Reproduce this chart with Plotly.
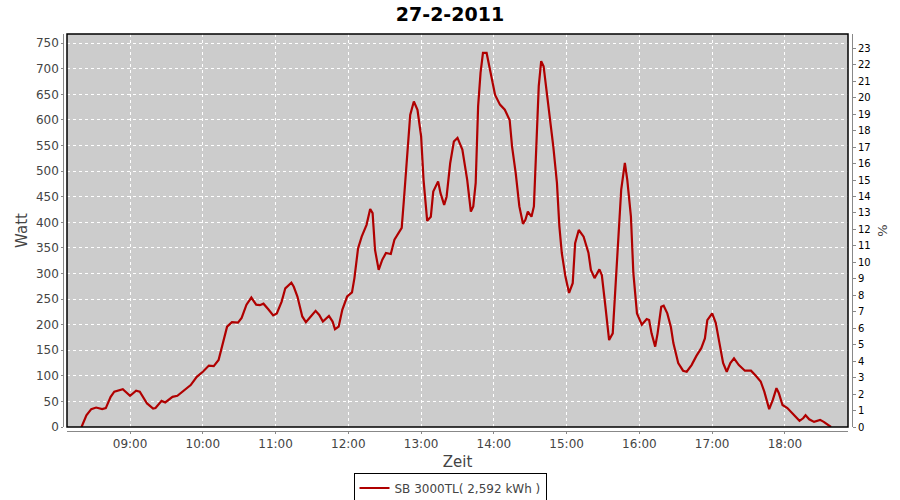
import plotly.graph_objects as go

times = ["08:20","08:24","08:28","08:32","08:37","08:40","08:44","08:47","08:54","09:00",
         "09:05","09:08","09:14","09:19","09:21","09:26","09:29","09:35","09:39","09:43",
         "09:50","09:55","10:00","10:05","10:09","10:13","10:16","10:20","10:24","10:29",
         "10:32","10:36","10:40","10:44","10:47","10:50","10:54","10:58","11:01","11:05",
         "11:08","11:13","11:15","11:18","11:22","11:25","11:29","11:33","11:36","11:39",
         "11:44","11:47","11:49","11:52","11:55","11:59","12:03","12:05","12:08","12:11",
         "12:15","12:18","12:20","12:22","12:25","12:28","12:31","12:35","12:38","12:42",
         "12:44","12:46","12:49","12:51","12:54","12:57","13:00","13:02","13:05","13:08",
         "13:10","13:14","13:16","13:19","13:21","13:24","13:27","13:30","13:34","13:38",
         "13:41","13:43","13:45","13:47","13:49","13:51","13:54","13:57","14:01","14:05",
         "14:09","14:13","14:15","14:18","14:21","14:24","14:26","14:28","14:31","14:33",
         "14:35","14:37","14:39","14:41","14:44","14:46","14:49","14:52","14:54","14:56",
         "14:59","15:02","15:05","15:07","15:10","15:14","15:18","15:20","15:23","15:27",
         "15:29","15:32","15:35","15:38","15:40","15:42","15:45","15:48","15:50","15:53",
         "15:55","15:58","16:02","16:06","16:08","16:10","16:13","16:15","16:18","16:20",
         "16:23","16:26","16:28","16:32","16:36","16:39","16:43","16:47","16:51","16:54",
         "16:56","17:00","17:03","17:06","17:09","17:12","17:15","17:18","17:22","17:27",
         "17:32","17:36","17:40","17:43","17:47","17:50","17:53","17:55","17:58","18:02",
         "18:08","18:12","18:15","18:17","18:20","18:24","18:29","18:32","18:38"]
watt = [0,23,35,38,35,37,59,69,74,61,
        71,69,46,36,37,51,48,59,61,69,
        82,98,108,120,119,131,160,196,205,204,
        213,239,253,239,238,241,230,218,222,245,
        271,282,274,255,216,205,216,227,219,206,
        217,206,191,196,229,255,263,291,349,372,
        395,426,418,346,307,327,340,338,366,380,
        389,450,548,610,636,620,568,483,403,411,
        460,480,457,434,450,516,558,565,542,483,
        421,431,477,627,692,731,731,695,649,630,
        620,600,548,496,431,397,405,421,411,431,
        548,666,715,705,646,607,548,477,392,340,
        294,262,281,359,385,372,340,307,291,308,
        297,235,170,183,262,353,464,516,483,411,
        301,222,200,211,209,183,157,183,235,237,
        222,195,164,125,110,108,121,139,154,173,
        209,222,203,164,125,108,125,134,121,110,
        110,100,89,69,35,53,76,66,43,37,
        23,12,17,23,15,10,14,10,0]

date = "2011-02-27"
x_vals = [f"{date} {t}:00" for t in times]

x_ticks = ["09:00","10:00","11:00","12:00","13:00","14:00","15:00","16:00","17:00","18:00"]
y_ticks = list(range(0, 751, 50))
pct_ticks = list(range(0, 24))

title = "27-2-2011"
legend_name = "SB 3000TL( 2,592 kWh )"

W, H = 900, 500
pl, pr, pt, pb = 67, 848, 34, 427   # plot area pixels
dx0, dx1 = pl / W, pr / W
dy0, dy1 = (H - pb) / H, (H - pt) / H

fig = go.Figure()
fig.add_trace(go.Scatter(
    x=x_vals, y=watt, mode="lines", name=legend_name,
    line=dict(color="#b00000", width=2.2, shape="linear"),
))
# invisible trace for right axis
fig.add_trace(go.Scatter(x=[x_vals[0]], y=[0], yaxis="y2", mode="lines",
                         showlegend=False, hoverinfo="skip",
                         line=dict(color="rgba(0,0,0,0)")))

axis_col = "#888888"
tick_font = dict(family="DejaVu Sans", size=12, color="#444444")

fig.update_layout(
    width=W, height=H,
    margin=dict(l=0, r=0, t=0, b=0, autoexpand=False),
    paper_bgcolor="white",
    plot_bgcolor="#cccccc",
    title=dict(text=f"<b>{title}</b>", x=0.5, xanchor="center", y=1 - 14 / H, yanchor="middle",
               font=dict(family="DejaVu Sans", size=19, color="#000000")),
    showlegend=True,
    legend=dict(orientation="h", x=0.5, xanchor="center", y=1 - 488 / H, yanchor="middle",
                bordercolor="#000000", borderwidth=1, bgcolor="white",
                font=dict(family="DejaVu Sans", size=12, color="#444444"),
                itemwidth=30, tracegroupgap=0),
    xaxis=dict(
        domain=[dx0, dx1], type="date", automargin=False,
        range=[f"{date} 08:08:00", f"{date} 18:52:00"],
        tickmode="array",
        tickvals=[f"{date} {t}:00" for t in x_ticks],
        ticktext=x_ticks,
        anchor="free", position=(H - 431) / H,
        showline=True, linecolor=axis_col, linewidth=1,
        ticks="outside", ticklen=2, tickcolor=axis_col,
        tickfont=tick_font,
        showgrid=True, gridcolor="white", griddash="dot", gridwidth=1,
        zeroline=False,
        title=dict(text="Zeit", font=dict(family="DejaVu Sans", size=15, color="#444444"), standoff=6),
    ),
    yaxis=dict(
        domain=[dy0, dy1], automargin=False,
        range=[0, 768],
        tickmode="array", tickvals=y_ticks,
        anchor="free", position=63.3 / W,
        showline=True, linecolor=axis_col, linewidth=1,
        ticks="outside", ticklen=2, tickcolor=axis_col,
        tickfont=tick_font,
        showgrid=True, gridcolor="white", griddash="dot", gridwidth=1,
        zeroline=False,
        title=dict(text="Watt", font=dict(family="DejaVu Sans", size=15, color="#444444"), standoff=3),
    ),
    yaxis2=dict(
        overlaying="y", side="right", automargin=False,
        range=[0, 23.87],
        tickmode="array", tickvals=pct_ticks,
        anchor="free", position=852 / W,
        showline=True, linecolor=axis_col, linewidth=1,
        ticks="outside", ticklen=3, tickcolor=axis_col,
        tickfont=dict(family="DejaVu Sans", size=10, color="#000000"),
        showgrid=False, zeroline=False,
        title=dict(text="%", font=dict(family="DejaVu Sans", size=13, color="#444444"), standoff=8),
    ),
    shapes=[dict(type="rect", xref="paper", yref="paper", x0=dx0, x1=dx1, y0=dy0, y1=dy1,
                 line=dict(color="#000000", width=1.5), fillcolor="rgba(0,0,0,0)", layer="above")],
)

fig.write_html("out.html", config={"displayModeBar": False},
               post_script="document.body.style.margin='0';document.body.style.overflow='hidden';")
